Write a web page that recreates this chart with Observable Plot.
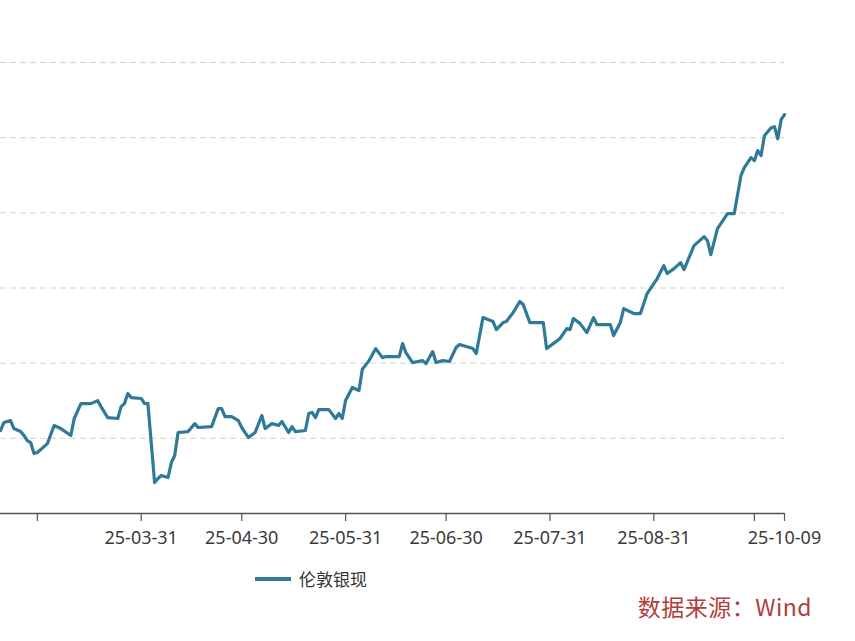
<!DOCTYPE html>
<html>
<head>
<meta charset="utf-8">
<script src="https://cdn.jsdelivr.net/npm/d3@7"></script>
<script src="https://cdn.jsdelivr.net/npm/@observablehq/plot@0.6"></script>
<style>
  html, body { margin: 0; padding: 0; background: #fff; }
  #wrap { position: relative; width: 855px; height: 641px; overflow: hidden; background: #fff; }
  #legend { position: absolute; left: 255px; top: 566px; display: flex; align-items: center;
            font-family: "Noto Sans CJK SC", "Noto Sans", sans-serif; font-size: 17px; color: #333; }
  #legend .swatch { width: 36px; height: 4px; background: #2f7a98; margin-right: 8px; }
  #caption { position: absolute; right: 43px; top: 589px; letter-spacing: 0.5px;
             font-family: "Noto Sans CJK SC", "Noto Sans", sans-serif; font-size: 23px; color: #b03d3b; }
</style>
</head>
<body>
<div id="wrap">
  <div id="chart"></div>
  <div id="legend"><span class="swatch"></span><span>伦敦银现</span></div>
  <div id="caption">数据来源：Wind</div>
</div>
<script>
const seriesName = "伦敦银现";
const dates = [
  "2025-02-17","2025-02-18","2025-02-20","2025-02-21","2025-02-23","2025-02-24","2025-02-25","2025-02-26","2025-02-27","2025-02-28",
  "2025-03-03","2025-03-05","2025-03-07","2025-03-10","2025-03-11","2025-03-13","2025-03-16","2025-03-18","2025-03-19","2025-03-21",
  "2025-03-24","2025-03-25","2025-03-26","2025-03-27","2025-03-28","2025-03-31","2025-04-01","2025-04-02","2025-04-04","2025-04-05",
  "2025-04-06","2025-04-08","2025-04-09","2025-04-10","2025-04-11","2025-04-14","2025-04-16","2025-04-17","2025-04-21","2025-04-23",
  "2025-04-24","2025-04-25","2025-04-27","2025-04-29","2025-04-30","2025-05-02","2025-05-04","2025-05-06","2025-05-07","2025-05-09",
  "2025-05-11","2025-05-12","2025-05-14","2025-05-15","2025-05-16","2025-05-19","2025-05-20","2025-05-21","2025-05-22","2025-05-23",
  "2025-05-26","2025-05-28","2025-05-29","2025-05-30","2025-05-31","2025-06-02","2025-06-04","2025-06-05","2025-06-07","2025-06-09",
  "2025-06-11","2025-06-12","2025-06-16","2025-06-17","2025-06-18","2025-06-20","2025-06-23","2025-06-24","2025-06-26","2025-06-27",
  "2025-06-29","2025-07-01","2025-07-03","2025-07-04","2025-07-08","2025-07-09","2025-07-11","2025-07-14","2025-07-15","2025-07-17",
  "2025-07-18","2025-07-20","2025-07-22","2025-07-23","2025-07-25","2025-07-29","2025-07-30","2025-08-01","2025-08-03","2025-08-05",
  "2025-08-06","2025-08-07","2025-08-09","2025-08-11","2025-08-13","2025-08-14","2025-08-18","2025-08-19","2025-08-21","2025-08-22",
  "2025-08-25","2025-08-27","2025-08-29","2025-09-01","2025-09-03","2025-09-04","2025-09-06","2025-09-08","2025-09-09","2025-09-12",
  "2025-09-15","2025-09-16","2025-09-17","2025-09-19","2025-09-22","2025-09-24","2025-09-26","2025-09-27","2025-09-29","2025-09-30",
  "2025-10-01","2025-10-02","2025-10-03","2025-10-05","2025-10-06","2025-10-07","2025-10-08","2025-10-09"
];
const values = [
  30.52,31.05,31.18,30.65,30.45,30.19,29.85,29.72,28.99,29.06,
  29.65,30.85,30.65,30.19,31.32,32.31,32.31,32.51,32.11,31.38,
  31.32,32.11,32.31,32.98,32.71,32.65,32.31,32.31,27.06,27.33,
  27.53,27.39,28.39,28.86,30.39,30.45,30.98,30.72,30.78,31.98,
  31.98,31.45,31.45,31.18,30.72,30.05,30.39,31.52,30.65,30.98,
  30.85,31.12,30.39,30.78,30.45,30.52,31.65,31.72,31.38,31.91,
  31.91,31.32,31.65,31.32,32.51,33.38,33.18,34.60,35.17,35.97,
  35.37,35.44,35.44,36.30,35.70,35.04,35.17,34.97,35.77,35.04,
  35.17,35.11,36.04,36.24,35.97,35.64,38.03,37.77,37.23,37.70,
  37.77,38.36,39.10,38.90,37.70,37.70,35.97,36.30,36.64,37.30,
  37.23,37.97,37.63,37.03,38.03,37.57,37.57,36.84,37.70,38.63,
  38.30,38.30,39.63,40.63,41.49,40.96,41.29,41.69,41.22,42.82,
  43.42,43.15,42.22,43.95,44.95,44.95,47.47,48.01,48.67,48.47,
  49.14,48.80,50.13,50.66,50.73,49.93,51.20,51.53
];
const xTickDates = ["2025-02-28","2025-03-31","2025-04-30","2025-05-31","2025-06-30","2025-07-31","2025-08-31","2025-09-30","2025-10-09"];
const xTickLabels = ["","25-03-31","25-04-30","25-05-31","25-06-30","25-07-31","25-08-31","","25-10-09"];
const gridValues = [30, 35, 40, 45, 50, 55];
const yMin = 25, yMax = 55;
const xStart = "2025-02-17", xEnd = "2025-10-09";

const data = dates.map((d, i) => ({date: new Date(d), value: values[i]}));
const labelMap = new Map(xTickDates.map((d, i) => [d, xTickLabels[i]]));

const chart = Plot.plot({
  width: 855,
  height: 560,
  marginLeft: 0,
  marginRight: 71,
  marginTop: 62,
  marginBottom: 47,
  style: {fontFamily: "'Noto Sans', 'Liberation Sans', sans-serif", fontSize: "18px", color: "#3a3a3a", background: "#fff"},
  x: {type: "utc", domain: [new Date(xStart), new Date(xEnd)]},
  y: {domain: [yMin, yMax], axis: null},
  marks: [
    Plot.ruleY(gridValues, {stroke: "#d4d4d4", strokeWidth: 1, strokeDasharray: "6,4"}),
    Plot.ruleY([yMin], {stroke: "#555", strokeWidth: 1.5}),
    Plot.axisX({
      ticks: xTickDates.map(d => new Date(d)),
      tickSize: 8,
      tickPadding: 10,
      stroke: "#555",
      strokeWidth: 1.2,
      tickFormat: d => labelMap.get(d.toISOString().slice(0, 10)),
      label: null
    }),
    Plot.lineY(data, {x: "date", y: "value", stroke: "#2f7a98", strokeWidth: 3.2, strokeLinejoin: "round"})
  ]
});
document.getElementById("chart").appendChild(chart);
</script>
</body>
</html>
